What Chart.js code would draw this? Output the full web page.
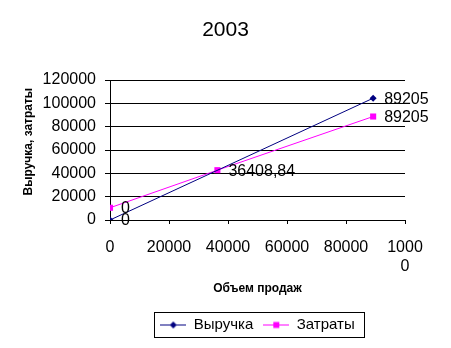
<!DOCTYPE html>
<html lang="ru">
<head>
    <meta charset="UTF-8">
    <title>2003</title>
    <script src="https://cdn.jsdelivr.net/npm/chart.js"></script>
    <style>
        body { margin: 0; background: #fff; }
    </style>
</head>
<body>
    <canvas id="chart" width="451" height="348"></canvas>

    <script>
        // Данные графика
        const chartTitle = '2003';
        const seriesNames = ['Выручка', 'Затраты'];
        const revenueX = [0, 89205];
        const revenueY = [0, 104400];
        const costX = [0, 36408.84, 89205];
        const costY = [10500, 42700, 88700];
        const xTickValues = [0, 20000, 40000, 60000, 80000, 100000];
        const xTickLabels = ['0', '20000', '40000', '60000', '80000', ['1000', '0']];
        const yTickValues = [0, 20000, 40000, 60000, 80000, 100000, 120000];

        const FONT = 'Arial, "Liberation Sans", sans-serif';
        const NAVY = '#000080';
        const MAGENTA = '#FF00FF';

        // Иконки легенды: линия с маркером
        function legendIcon(color, shape) {
            const c = document.createElement('canvas');
            c.width = 26; c.height = 10;
            const g = c.getContext('2d');
            g.strokeStyle = color;
            g.lineWidth = 1;
            g.beginPath();
            g.moveTo(0, 5.5); g.lineTo(26, 5.5);
            g.stroke();
            g.fillStyle = color;
            if (shape === 'diamond') {
                g.beginPath();
                g.moveTo(13, 2); g.lineTo(16.5, 5.5); g.lineTo(13, 9); g.lineTo(9.5, 5.5);
                g.closePath();
                g.fill();
            } else {
                g.fillRect(10, 2.5, 6, 6);
            }
            return c;
        }
        const legendIcons = [legendIcon(NAVY, 'diamond'), legendIcon(MAGENTA, 'square')];

        const toPoints = (xs, ys) => xs.map((x, i) => ({ x: x, y: ys[i] }));

        // Подписи данных (значение X) справа от точек
        const pointLabels = {
            id: 'pointLabels',
            afterDatasetsDraw(chart) {
                const ctx = chart.ctx;
                ctx.save();
                ctx.font = '16px ' + FONT;
                ctx.fillStyle = '#000';
                ctx.textAlign = 'left';
                ctx.textBaseline = 'middle';
                chart.data.datasets.forEach((ds, di) => {
                    const meta = chart.getDatasetMeta(di);
                    meta.data.forEach((pt, i) => {
                        const text = String(ds.data[i].x).replace('.', ',');
                        ctx.fillText(text, pt.x + 11, pt.y + 1);
                    });
                });
                ctx.restore();
            }
        };

        // Рамка вокруг легенды
        const legendFrame = {
            id: 'legendFrame',
            afterDraw(chart) {
                const boxes = chart.legend && chart.legend.legendHitBoxes;
                if (!boxes || !boxes.length) return;
                const left = Math.min(...boxes.map(b => b.left));
                const right = Math.max(...boxes.map(b => b.left + b.width));
                const top = Math.min(...boxes.map(b => b.top));
                const bottom = Math.max(...boxes.map(b => b.top + b.height));
                const ctx = chart.ctx;
                ctx.save();
                ctx.strokeStyle = '#000';
                ctx.lineWidth = 1;
                ctx.strokeRect(Math.round(left - 6) + 0.5, Math.round(top - 5) + 0.5,
                    Math.round(right - left + 16), Math.round(bottom - top + 10));
                ctx.restore();
            }
        };

        new Chart(document.getElementById('chart'), {
            type: 'line',
            data: {
                datasets: [{
                    label: seriesNames[0],
                    data: toPoints(revenueX, revenueY),
                    borderColor: NAVY,
                    backgroundColor: NAVY,
                    borderWidth: 1,
                    pointStyle: 'rectRot',
                    pointRadius: 3.5,
                    pointBorderWidth: 0,
                    tension: 0
                }, {
                    label: seriesNames[1],
                    data: toPoints(costX, costY),
                    borderColor: MAGENTA,
                    backgroundColor: MAGENTA,
                    borderWidth: 1,
                    pointStyle: 'rect',
                    pointRadius: 4.3,
                    pointBorderWidth: 0,
                    tension: 0
                }]
            },
            options: {
                responsive: false,
                animation: false,
                layout: { padding: { left: 0, right: 0, top: 0, bottom: 6 } },
                plugins: {
                    title: {
                        display: true,
                        text: chartTitle,
                        color: '#000',
                        font: { family: FONT, size: 21, weight: 'normal' },
                        padding: { top: 18, bottom: 36.8 }
                    },
                    legend: {
                        position: 'bottom',
                        fullSize: false,
                        labels: {
                            color: '#000',
                            font: { family: FONT, size: 15 },
                            usePointStyle: true,
                            pointStyleWidth: 26,
                            padding: 10,
                            generateLabels(chart) {
                                const items = Chart.defaults.plugins.legend.labels.generateLabels(chart);
                                items.forEach((it, i) => { it.pointStyle = legendIcons[i]; });
                                return items;
                            }
                        }
                    },
                    tooltip: { enabled: false }
                },
                scales: {
                    x: {
                        type: 'linear',
                        min: 0,
                        max: 100000,
                        afterBuildTicks(scale) {
                            scale.ticks = xTickValues.map(v => ({ value: v }));
                        },
                        afterFit(scale) { scale.height = 87; },
                        ticks: {
                            color: '#000',
                            font: { family: FONT, size: 16 },
                            padding: 14,
                            maxRotation: 0,
                            autoSkip: false,
                            callback: (v, i) => xTickLabels[i]
                        },
                        grid: { drawOnChartArea: false, tickLength: 4, color: '#000' },
                        border: { color: '#000' },
                        title: {
                            display: true,
                            text: 'Объем продаж',
                            color: '#000',
                            font: { family: FONT, size: 12, weight: 'bold' },
                            padding: { top: 0, bottom: 11 }
                        }
                    },
                    y: {
                        min: 0,
                        max: 120000,
                        afterBuildTicks(scale) {
                            scale.ticks = yTickValues.map(v => ({ value: v }));
                        },
                        afterFit(scale) { scale.width = 110; },
                        ticks: {
                            color: '#000',
                            font: { family: FONT, size: 16 },
                            padding: 9,
                            callback: v => String(v)
                        },
                        grid: { color: '#000', tickLength: 5 },
                        border: { color: '#000' },
                        title: {
                            display: true,
                            text: '     Выручка, затраты',
                            color: '#000',
                            font: { family: FONT, size: 12, weight: 'bold' },
                            padding: { top: 21, bottom: 0 }
                        }
                    },
                    // пустая ось справа, чтобы оставить поле под подписи
                    y2: {
                        position: 'right',
                        display: true,
                        afterFit(scale) { scale.width = 46; },
                        ticks: { display: false },
                        grid: { display: false },
                        border: { display: false }
                    }
                }
            },
            plugins: [pointLabels, legendFrame]
        });
    </script>
</body>
</html>
